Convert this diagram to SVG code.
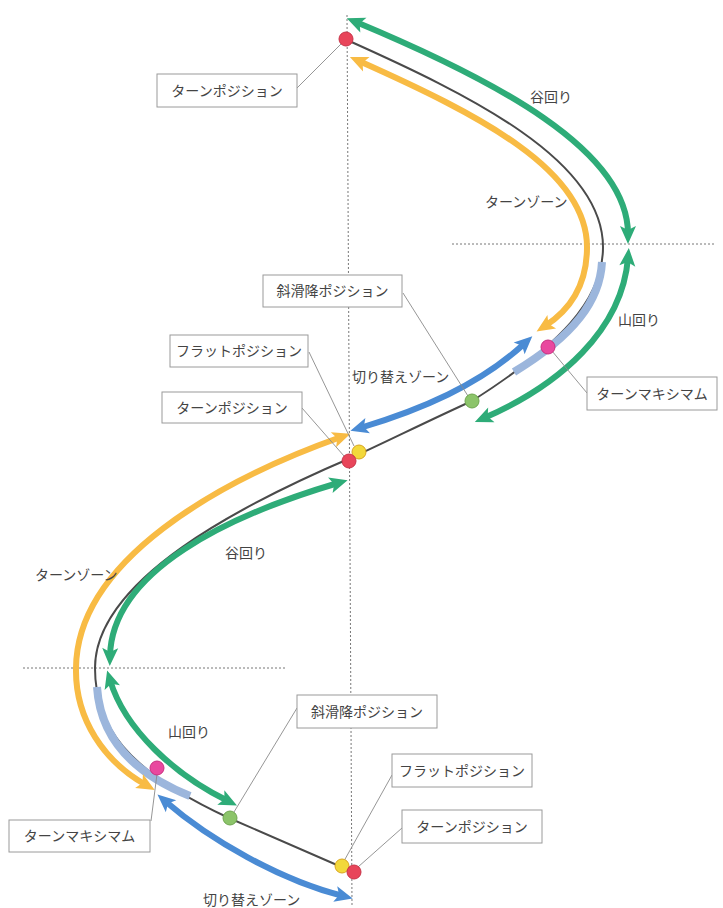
<svg xmlns="http://www.w3.org/2000/svg" width="723" height="908" viewBox="0 0 723 908">
<style>
.bg{fill:#ffffff}
.guide{stroke:#777;stroke-width:1;stroke-dasharray:2 2;fill:none}
.track{stroke:#4a4a4a;stroke-width:2;fill:none}
.lb{stroke:#9cb6dc;stroke-width:8;fill:none;stroke-linecap:butt}
.g{stroke:#2eac78;stroke-width:6;fill:none}
.y{stroke:#f8bb44;stroke-width:6;fill:none}
.b{stroke:#4a8bd4;stroke-width:6;fill:none}
.box{fill:#ffffff;stroke:#9a9a9a;stroke-width:1}
.lead{stroke:#8a8a8a;stroke-width:0.9;fill:none}
text{font-family:"Noto Sans CJK JP","Noto Sans",sans-serif;font-size:14px;fill:#444}
.c{text-anchor:middle}
.red{fill:#e8455a;stroke:#c93348;stroke-width:1}
.yel{fill:#f2d83b;stroke:#d9a520;stroke-width:1}
.grn{fill:#8cc46a;stroke:#6fa64f;stroke-width:1}
.pnk{fill:#e9489f;stroke:#c8307f;stroke-width:1}
</style>
<defs>
<marker id="mg" markerUnits="userSpaceOnUse" viewBox="-10 -10 22 20" refX="0" refY="0" markerWidth="22" markerHeight="20" orient="auto-start-reverse"><path d="M10,0 L-8,-8 L-4,0 L-8,8 Z" fill="#2eac78"/></marker>
<marker id="my" markerUnits="userSpaceOnUse" viewBox="-10 -10 22 20" refX="0" refY="0" markerWidth="22" markerHeight="20" orient="auto-start-reverse"><path d="M10,0 L-8,-8 L-4,0 L-8,8 Z" fill="#f8bb44"/></marker>
<marker id="mb" markerUnits="userSpaceOnUse" viewBox="-10 -10 22 20" refX="0" refY="0" markerWidth="22" markerHeight="20" orient="auto-start-reverse"><path d="M10,0 L-8,-8 L-4,0 L-8,8 Z" fill="#4a8bd4"/></marker>
</defs>
<rect class="bg" x="0" y="0" width="723" height="908"/>
<g id="guides">
<line class="guide" x1="347" y1="15" x2="352" y2="905"/>
<line class="guide" x1="452" y1="244" x2="716" y2="244"/>
<line class="guide" x1="23" y1="668" x2="287" y2="668"/>
</g>
<g id="connectors">
<path class="track" d="M347,40 C470,95 603,160 603,247 C603,300 560,345 472,401 C430,420 390,440 353,457 C240,505 95,580 95,668 C95,725 125,770 229,818 L353,872"/>
<path class="lb" d="M602,262 C600,300 575,335 514,372"/>
<path class="lb" d="M97,687 C100,735 130,772 190,796"/>
<path class="g" d="M356,22 C495,80 628,150 628,234" marker-start="url(#mg)" marker-end="url(#mg)"/>
<path class="y" d="M359,61 C480,115 587,170 587,247 C587,285 570,310 545,326" marker-start="url(#my)" marker-end="url(#my)"/>
<path class="g" d="M628,258 C622,330 560,385 484,418" marker-start="url(#mg)" marker-end="url(#mg)"/>
<path class="b" d="M360,428 C420,410 480,385 525,343" marker-start="url(#mb)" marker-end="url(#mb)"/>
<path class="y" d="M341,437 C220,480 77,560 76,668 C75,720 105,762 146,785" marker-start="url(#my)" marker-end="url(#my)"/>
<path class="g" d="M338,483 C230,515 112,570 110,656" marker-start="url(#mg)" marker-end="url(#mg)"/>
<path class="g" d="M110,680 C125,730 175,775 228,801" marker-start="url(#mg)" marker-end="url(#mg)"/>
<path class="b" d="M165,801 C210,840 280,880 343,896" marker-start="url(#mb)" marker-end="url(#mb)"/>
<line class="lead" x1="297" y1="88" x2="342" y2="43"/>
<line class="lead" x1="403" y1="293" x2="468" y2="396"/>
<line class="lead" x1="309" y1="352" x2="354" y2="446"/>
<line class="lead" x1="302" y1="408" x2="344" y2="456"/>
<line class="lead" x1="587" y1="393" x2="552" y2="351"/>
<line class="lead" x1="297" y1="708" x2="234" y2="812"/>
<line class="lead" x1="392" y1="775" x2="344" y2="861"/>
<line class="lead" x1="402" y1="828" x2="358" y2="867"/>
<line class="lead" x1="151" y1="821" x2="157" y2="774"/>
</g>
<g id="dots">
<circle id="turn-top" class="red" cx="346" cy="39" r="7"/>
<circle id="flat-mid" class="yel" cx="359" cy="452" r="7"/>
<circle id="turn-mid" class="red" cx="349" cy="461" r="7"/>
<circle id="trav-mid" class="grn" cx="472" cy="401" r="7"/>
<circle id="max-top" class="pnk" cx="548" cy="347" r="7"/>
<circle id="max-bot" class="pnk" cx="157" cy="768" r="7"/>
<circle id="trav-bot" class="grn" cx="230" cy="818" r="7"/>
<circle id="flat-bot" class="yel" cx="342" cy="866" r="7"/>
<circle id="turn-bot" class="red" cx="354" cy="872" r="7"/>
</g>
<g id="label-turn-top"><rect class="box" x="157" y="74" width="140" height="33"/><text class="c" x="227" y="95.5">ターンポジション</text></g>
<g id="label-trav-mid"><rect class="box" x="263" y="275" width="139" height="32"/><text class="c" x="332.5" y="296">斜滑降ポジション</text></g>
<g id="label-flat-mid"><rect class="box" x="170" y="335" width="138" height="32"/><text class="c" x="239" y="356">フラットポジション</text></g>
<g id="label-turn-mid"><rect class="box" x="162" y="392" width="140" height="31"/><text class="c" x="232" y="412.5">ターンポジション</text></g>
<g id="label-max-top"><rect class="box" x="587" y="377" width="130" height="33"/><text class="c" x="652" y="398.5">ターンマキシマム</text></g>
<g id="label-trav-bot"><rect class="box" x="297" y="695" width="140" height="33"/><text class="c" x="367" y="716.5">斜滑降ポジション</text></g>
<g id="label-flat-bot"><rect class="box" x="392" y="754" width="140" height="33"/><text class="c" x="462" y="775.5">フラットポジション</text></g>
<g id="label-turn-bot"><rect class="box" x="402" y="810" width="140" height="33"/><text class="c" x="472" y="831.5">ターンポジション</text></g>
<g id="label-max-bot"><rect class="box" x="9" y="820" width="141" height="32"/><text class="c" x="79.5" y="841">ターンマキシマム</text></g>
<g id="free-labels">
<text x="530" y="102">谷回り</text>
<text x="485" y="207">ターンゾーン</text>
<text x="618" y="325">山回り</text>
<text x="352" y="382">切り替えゾーン</text>
<text x="225" y="558">谷回り</text>
<text x="35" y="580">ターンゾーン</text>
<text x="168" y="737">山回り</text>
<text x="203" y="905">切り替えゾーン</text>
</g>
</svg>
